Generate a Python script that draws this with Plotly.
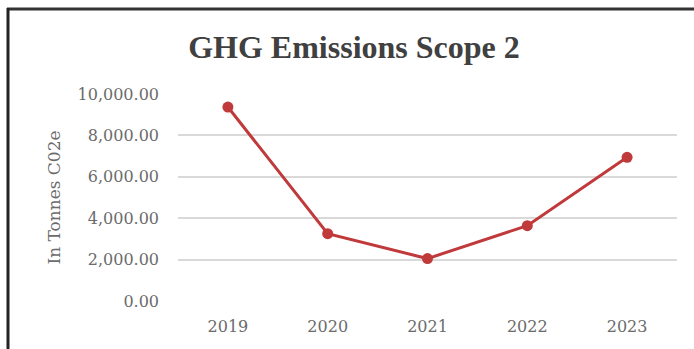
import plotly.graph_objects as go

# Scope 2 emissions by year, tonnes CO2e
years = ["2019", "2020", "2021", "2022", "2023"]
emissions = [9370, 3250, 2050, 3640, 6940]
y_ticks = [0, 2000, 4000, 6000, 8000, 10000]

W, H = 694, 349
L, R, T, B = 178, 17, 94, 48
plot_w = W - L - R
plot_h = H - T - B

def px_x(x):
    return (x - L) / plot_w

def px_y(y):
    return (H - B - y) / plot_h

title_font = "Liberation Serif, serif"
label_font = "DejaVu Serif, serif"
line_red = "#C0393B"

fig = go.Figure(
    go.Scatter(
        x=years,
        y=emissions,
        mode="lines+markers",
        line=dict(color=line_red, width=3),
        marker=dict(color=line_red, size=11),
        hoverinfo="skip",
    )
)

fig.update_layout(
    width=W,
    height=H,
    margin=dict(l=L, r=R, t=T, b=B),
    paper_bgcolor="white",
    plot_bgcolor="white",
    showlegend=False,
    title=dict(
        text="<b>GHG Emissions Scope 2</b>",
        x=354 / W,
        xanchor="center",
        y=1 - 47 / H,
        yanchor="middle",
        font=dict(family=title_font, size=32, color="#404040"),
    ),
    xaxis=dict(
        type="category",
        range=[-0.5, 4.5],
        showgrid=False,
        showline=False,
        zeroline=False,
        ticks="",
        tickfont=dict(family=label_font, size=16, color="#6b6b6b"),
        ticklabelstandoff=14,
    ),
    yaxis=dict(
        range=[0, 10000],
        tickvals=y_ticks,
        tickformat=",.2f",
        showgrid=True,
        gridcolor="#d9d9d9",
        gridwidth=1.5,
        zeroline=False,
        showline=False,
        ticks="",
        tickfont=dict(family=label_font, size=16, color="#6b6b6b"),
        ticklabelstandoff=18,
        title=dict(
            text="In Tonnes C02e",
            font=dict(family=label_font, size=17, color="#6b6b6b"),
            standoff=12,
        ),
    ),
    shapes=[
        # frame: dark rule along the top and left edges
        dict(type="line", xref="paper", yref="paper",
             x0=px_x(7), x1=px_x(W), y0=px_y(9), y1=px_y(9),
             line=dict(color="#333333", width=3)),
        dict(type="line", xref="paper", yref="paper",
             x0=px_x(8), x1=px_x(8), y0=px_y(8), y1=px_y(H),
             line=dict(color="#222222", width=3)),
    ],
)

fig.write_html("out.html")
